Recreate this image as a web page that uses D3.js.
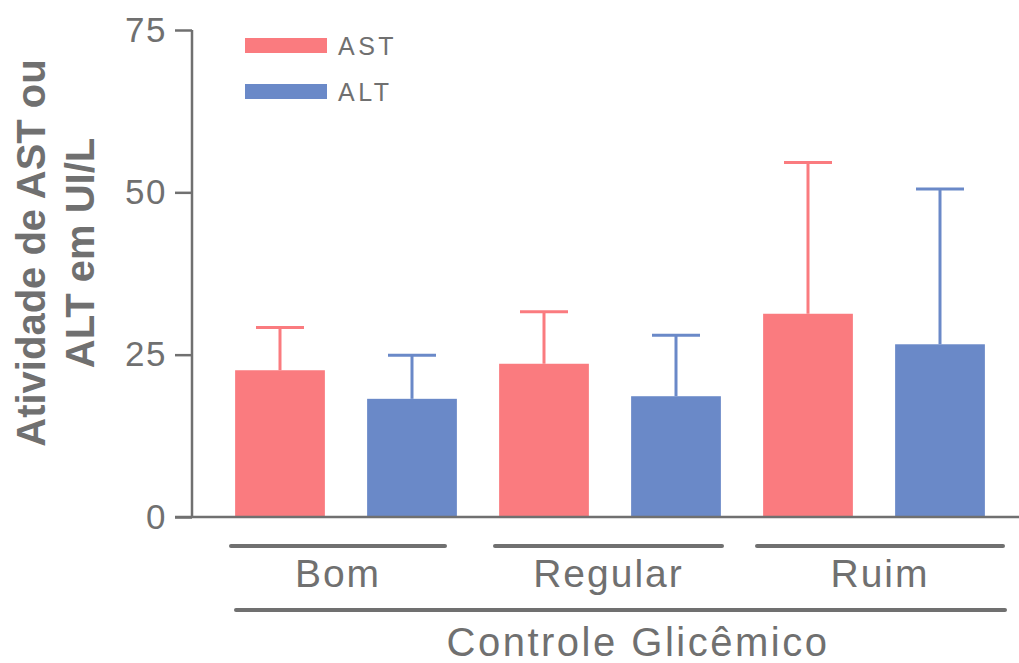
<!DOCTYPE html>
<html><head><meta charset="utf-8">
<script src="https://cdn.jsdelivr.net/npm/d3@7"></script>
<style>body{margin:0;background:#fff}svg{display:block}</style>
</head><body>
<svg id="c" width="1019" height="663"></svg>
<script>
const groups = ["Bom", "Regular", "Ruim"];
const series = ["AST", "ALT"];
const means = { AST: [22.6, 23.6, 31.3], ALT: [18.2, 18.6, 26.6] };
const errTop = { AST: [29.2, 31.6, 54.6], ALT: [24.9, 28.0, 50.5] };
const yTicks = [0, 25, 50, 75];
const yTitle = ["Atividade de AST ou", "ALT em UI/L"];
const xTitle = "Controle Glicêmico";
const colors = { AST: "#fa7b7f", ALT: "#6a89c8" };
const grey = "#707070";
const font = "Liberation Sans, Arial, sans-serif";

const svg = d3.select("#c");
const y = d3.scaleLinear().domain([0, 75]).range([517, 30]);
const x0 = d3.scaleBand().domain(groups).range([214, 1006]);
const x1 = d3.scaleBand().domain(series).range([0, x0.bandwidth()]).paddingInner(0.32).paddingOuter(0.16);

// y axis
const yAxis = d3.axisLeft(y).tickValues(yTicks).tickSize(17).tickPadding(8);
const gy = svg.append("g").attr("transform", "translate(192,0)").call(yAxis);
gy.select(".domain").remove();
gy.selectAll(".tick line").attr("stroke", grey).attr("stroke-width", 2.5);
gy.selectAll(".tick text").attr("fill", grey).attr("font-family", font)
  .attr("font-size", 35).attr("letter-spacing", 1.5);
gy.append("line").attr("x1", 0).attr("x2", 0).attr("y1", y(75)).attr("y2", y(0))
  .attr("stroke", grey).attr("stroke-width", 2.5);

// bars
const gBars = svg.append("g");
groups.forEach((g, i) => {
  series.forEach(s => {
    const bx = x0(g) + x1(s);
    const cx = bx + x1.bandwidth() / 2;
    const col = colors[s];
    gBars.append("line").attr("x1", cx).attr("x2", cx).attr("y1", y(means[s][i])).attr("y2", y(errTop[s][i]))
      .attr("stroke", col).attr("stroke-width", 3);
    gBars.append("line").attr("x1", cx - 24).attr("x2", cx + 24).attr("y1", y(errTop[s][i])).attr("y2", y(errTop[s][i]))
      .attr("stroke", col).attr("stroke-width", 3);
    gBars.append("rect").attr("x", bx).attr("width", x1.bandwidth())
      .attr("y", y(means[s][i])).attr("height", y(0) - y(means[s][i])).attr("fill", col);
  });
});

// x baseline
svg.append("line").attr("x1", 175).attr("x2", 1019).attr("y1", y(0)).attr("y2", y(0))
  .attr("stroke", grey).attr("stroke-width", 2.5);

// group lines & labels
const insets = [[17, 33], [17, 20], [15, 3]];
groups.forEach((g, i) => {
  const a = x0(g) + insets[i][0], b = x0(g) + x0.bandwidth() - insets[i][1];
  svg.append("line").attr("x1", a).attr("x2", b).attr("y1", 546).attr("y2", 546)
    .attr("stroke", grey).attr("stroke-width", 4).attr("stroke-linecap", "round");
  svg.append("text").attr("x", (a + b) / 2).attr("y", 587).attr("text-anchor", "middle")
    .attr("fill", grey).attr("font-family", font).attr("font-size", 39)
    .attr("letter-spacing", 2).text(g);
});
svg.append("line").attr("x1", 236).attr("x2", 1005).attr("y1", 610).attr("y2", 610)
  .attr("stroke", grey).attr("stroke-width", 4).attr("stroke-linecap", "round");
svg.append("text").attr("x", 638).attr("y", 656).attr("text-anchor", "middle")
  .attr("fill", grey).attr("font-family", font).attr("font-size", 40)
  .attr("letter-spacing", 2.5).text(xTitle);

// y title
const yt = svg.append("text").attr("transform", "translate(0,253) rotate(-90)")
  .attr("text-anchor", "middle").attr("fill", grey).attr("font-weight", "bold")
  .attr("font-family", font).attr("font-size", 40);
yt.append("tspan").attr("x", 0).attr("y", 45).text(yTitle[0]);
yt.append("tspan").attr("x", 0).attr("y", 94).text(yTitle[1]);

// legend
series.forEach((s, i) => {
  const ly = 46 + i * 46;
  svg.append("rect").attr("x", 245).attr("y", ly - 8).attr("width", 82).attr("height", 15).attr("fill", colors[s]);
  svg.append("text").attr("x", 338).attr("y", ly + 9).attr("fill", grey)
    .attr("font-family", font).attr("font-size", 25)
    .attr("letter-spacing", 3.5).text(s);
});
</script>
</body></html>
